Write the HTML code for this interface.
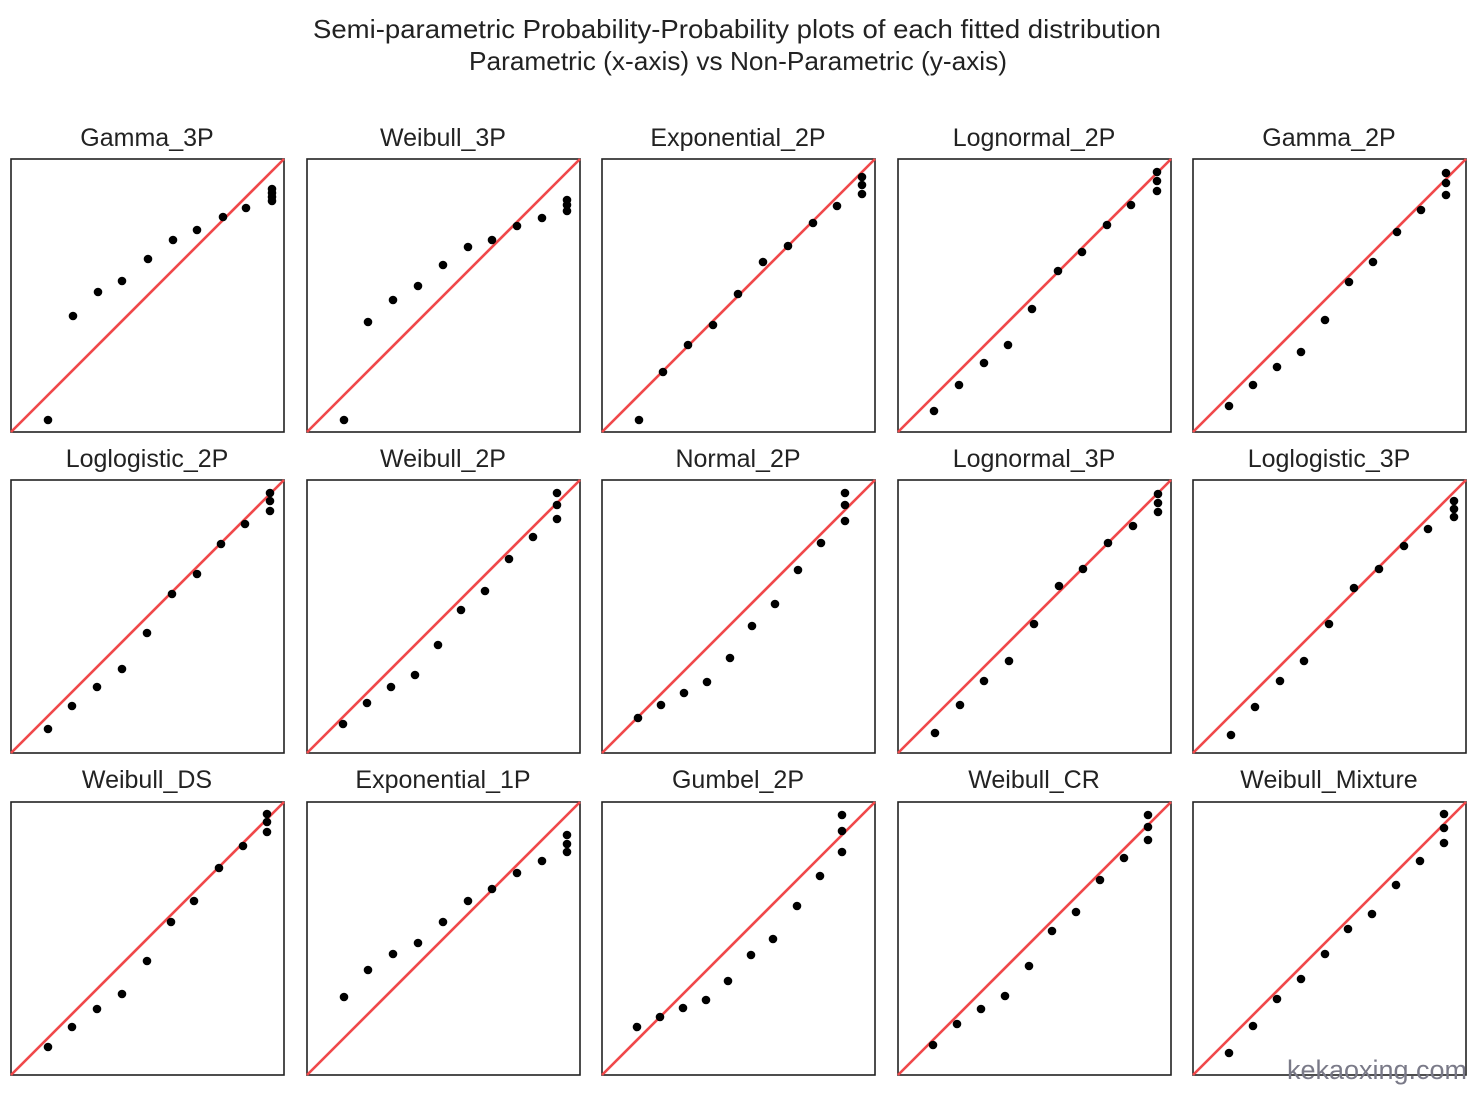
<!DOCTYPE html>
<html><head><meta charset="utf-8"><style>
html,body{margin:0;padding:0;background:#fff;}
svg{display:block;}
text{font-family:"Liberation Sans","DejaVu Sans",sans-serif;fill:#222;}
</style></head><body>
<svg width="1482" height="1094" viewBox="0 0 1482 1094" xmlns="http://www.w3.org/2000/svg">
<text x="313" y="38" font-size="26" textLength="848" lengthAdjust="spacingAndGlyphs">Semi-parametric Probability-Probability plots of each fitted distribution</text>
<text x="469" y="70" font-size="26" textLength="538" lengthAdjust="spacingAndGlyphs">Parametric (x-axis) vs Non-Parametric (y-axis)</text>
<g font-size="25" text-anchor="middle">
<text x="147" y="146">Gamma_3P</text><text x="443" y="146">Weibull_3P</text><text x="738" y="146">Exponential_2P</text><text x="1034" y="146">Lognormal_2P</text><text x="1329" y="146">Gamma_2P</text>
<text x="147" y="467">Loglogistic_2P</text><text x="443" y="467">Weibull_2P</text><text x="738" y="467">Normal_2P</text><text x="1034" y="467">Lognormal_3P</text><text x="1329" y="467">Loglogistic_3P</text>
<text x="147" y="788">Weibull_DS</text><text x="443" y="788">Exponential_1P</text><text x="738" y="788">Gumbel_2P</text><text x="1034" y="788">Weibull_CR</text><text x="1329" y="788">Weibull_Mixture</text>
</g>
<g fill="none" stroke="#222" stroke-width="1.6">
<rect x="11" y="159" width="273" height="273"/><rect x="307" y="159" width="273" height="273"/><rect x="602" y="159" width="273" height="273"/><rect x="898" y="159" width="273" height="273"/><rect x="1193" y="159" width="273" height="273"/>
<rect x="11" y="480" width="273" height="273"/><rect x="307" y="480" width="273" height="273"/><rect x="602" y="480" width="273" height="273"/><rect x="898" y="480" width="273" height="273"/><rect x="1193" y="480" width="273" height="273"/>
<rect x="11" y="802" width="273" height="273"/><rect x="307" y="802" width="273" height="273"/><rect x="602" y="802" width="273" height="273"/><rect x="898" y="802" width="273" height="273"/><rect x="1193" y="802" width="273" height="273"/>
</g>
<g stroke="#f0484a" stroke-width="2.6">
<line x1="11" y1="432" x2="284" y2="159"/><line x1="307" y1="432" x2="580" y2="159"/><line x1="602" y1="432" x2="875" y2="159"/><line x1="898" y1="432" x2="1171" y2="159"/><line x1="1193" y1="432" x2="1466" y2="159"/>
<line x1="11" y1="753" x2="284" y2="480"/><line x1="307" y1="753" x2="580" y2="480"/><line x1="602" y1="753" x2="875" y2="480"/><line x1="898" y1="753" x2="1171" y2="480"/><line x1="1193" y1="753" x2="1466" y2="480"/>
<line x1="11" y1="1075" x2="284" y2="802"/><line x1="307" y1="1075" x2="580" y2="802"/><line x1="602" y1="1075" x2="875" y2="802"/><line x1="898" y1="1075" x2="1171" y2="802"/><line x1="1193" y1="1075" x2="1466" y2="802"/>
</g>
<g fill="#000">
<circle cx="48" cy="420" r="4.3"/><circle cx="73" cy="316" r="4.3"/><circle cx="98" cy="292" r="4.3"/><circle cx="122" cy="281" r="4.3"/><circle cx="148" cy="259" r="4.3"/><circle cx="173" cy="240" r="4.3"/><circle cx="197" cy="230" r="4.3"/><circle cx="223" cy="217" r="4.3"/><circle cx="246" cy="208" r="4.3"/><circle cx="272" cy="201" r="4.3"/><circle cx="272" cy="197" r="4.3"/><circle cx="272" cy="193" r="4.3"/><circle cx="272" cy="189" r="4.3"/>
<circle cx="344" cy="420" r="4.3"/><circle cx="368" cy="322" r="4.3"/><circle cx="393" cy="300" r="4.3"/><circle cx="418" cy="286" r="4.3"/><circle cx="443" cy="265" r="4.3"/><circle cx="468" cy="247" r="4.3"/><circle cx="492" cy="240" r="4.3"/><circle cx="517" cy="226" r="4.3"/><circle cx="542" cy="218" r="4.3"/><circle cx="567" cy="211" r="4.3"/><circle cx="567" cy="205" r="4.3"/><circle cx="567" cy="200" r="4.3"/>
<circle cx="639" cy="420" r="4.3"/><circle cx="663" cy="372" r="4.3"/><circle cx="688" cy="345" r="4.3"/><circle cx="713" cy="325" r="4.3"/><circle cx="738" cy="294" r="4.3"/><circle cx="763" cy="262" r="4.3"/><circle cx="788" cy="246" r="4.3"/><circle cx="813" cy="223" r="4.3"/><circle cx="837" cy="206" r="4.3"/><circle cx="862" cy="194" r="4.3"/><circle cx="862" cy="185" r="4.3"/><circle cx="862" cy="177" r="4.3"/>
<circle cx="934" cy="411" r="4.3"/><circle cx="959" cy="385" r="4.3"/><circle cx="984" cy="363" r="4.3"/><circle cx="1008" cy="345" r="4.3"/><circle cx="1032" cy="309" r="4.3"/><circle cx="1058" cy="271" r="4.3"/><circle cx="1082" cy="252" r="4.3"/><circle cx="1107" cy="225" r="4.3"/><circle cx="1131" cy="205" r="4.3"/><circle cx="1157" cy="191" r="4.3"/><circle cx="1157" cy="181" r="4.3"/><circle cx="1157" cy="172" r="4.3"/>
<circle cx="1229" cy="406" r="4.3"/><circle cx="1253" cy="385" r="4.3"/><circle cx="1277" cy="367" r="4.3"/><circle cx="1301" cy="352" r="4.3"/><circle cx="1325" cy="320" r="4.3"/><circle cx="1349" cy="282" r="4.3"/><circle cx="1373" cy="262" r="4.3"/><circle cx="1397" cy="232" r="4.3"/><circle cx="1421" cy="210" r="4.3"/><circle cx="1446" cy="195" r="4.3"/><circle cx="1446" cy="183" r="4.3"/><circle cx="1446" cy="173" r="4.3"/>
<circle cx="48" cy="729" r="4.3"/><circle cx="72" cy="706" r="4.3"/><circle cx="97" cy="687" r="4.3"/><circle cx="122" cy="669" r="4.3"/><circle cx="147" cy="633" r="4.3"/><circle cx="172" cy="594" r="4.3"/><circle cx="197" cy="574" r="4.3"/><circle cx="221" cy="544" r="4.3"/><circle cx="245" cy="524" r="4.3"/><circle cx="270" cy="511" r="4.3"/><circle cx="270" cy="501" r="4.3"/><circle cx="270" cy="493" r="4.3"/>
<circle cx="343" cy="724" r="4.3"/><circle cx="367" cy="703" r="4.3"/><circle cx="391" cy="687" r="4.3"/><circle cx="415" cy="675" r="4.3"/><circle cx="438" cy="645" r="4.3"/><circle cx="461" cy="610" r="4.3"/><circle cx="485" cy="591" r="4.3"/><circle cx="509" cy="559" r="4.3"/><circle cx="533" cy="537" r="4.3"/><circle cx="557" cy="519" r="4.3"/><circle cx="557" cy="505" r="4.3"/><circle cx="557" cy="493" r="4.3"/>
<circle cx="638" cy="718" r="4.3"/><circle cx="661" cy="705" r="4.3"/><circle cx="684" cy="693" r="4.3"/><circle cx="707" cy="682" r="4.3"/><circle cx="730" cy="658" r="4.3"/><circle cx="752" cy="626" r="4.3"/><circle cx="775" cy="604" r="4.3"/><circle cx="798" cy="570" r="4.3"/><circle cx="821" cy="543" r="4.3"/><circle cx="845" cy="521" r="4.3"/><circle cx="845" cy="505" r="4.3"/><circle cx="845" cy="493" r="4.3"/>
<circle cx="935" cy="733" r="4.3"/><circle cx="960" cy="705" r="4.3"/><circle cx="984" cy="681" r="4.3"/><circle cx="1009" cy="661" r="4.3"/><circle cx="1034" cy="624" r="4.3"/><circle cx="1059" cy="586" r="4.3"/><circle cx="1083" cy="569" r="4.3"/><circle cx="1108" cy="543" r="4.3"/><circle cx="1133" cy="526" r="4.3"/><circle cx="1158" cy="512" r="4.3"/><circle cx="1158" cy="503" r="4.3"/><circle cx="1158" cy="494" r="4.3"/>
<circle cx="1231" cy="735" r="4.3"/><circle cx="1255" cy="707" r="4.3"/><circle cx="1280" cy="681" r="4.3"/><circle cx="1304" cy="661" r="4.3"/><circle cx="1329" cy="624" r="4.3"/><circle cx="1354" cy="588" r="4.3"/><circle cx="1379" cy="569" r="4.3"/><circle cx="1404" cy="546" r="4.3"/><circle cx="1428" cy="529" r="4.3"/><circle cx="1454" cy="517" r="4.3"/><circle cx="1454" cy="509" r="4.3"/><circle cx="1454" cy="501" r="4.3"/>
<circle cx="48" cy="1047" r="4.3"/><circle cx="72" cy="1027" r="4.3"/><circle cx="97" cy="1009" r="4.3"/><circle cx="122" cy="994" r="4.3"/><circle cx="147" cy="961" r="4.3"/><circle cx="171" cy="922" r="4.3"/><circle cx="194" cy="901" r="4.3"/><circle cx="219" cy="868" r="4.3"/><circle cx="243" cy="846" r="4.3"/><circle cx="267" cy="832" r="4.3"/><circle cx="267" cy="822" r="4.3"/><circle cx="267" cy="814" r="4.3"/>
<circle cx="344" cy="997" r="4.3"/><circle cx="368" cy="970" r="4.3"/><circle cx="393" cy="954" r="4.3"/><circle cx="418" cy="943" r="4.3"/><circle cx="443" cy="922" r="4.3"/><circle cx="468" cy="901" r="4.3"/><circle cx="492" cy="889" r="4.3"/><circle cx="517" cy="873" r="4.3"/><circle cx="542" cy="861" r="4.3"/><circle cx="567" cy="852" r="4.3"/><circle cx="567" cy="844" r="4.3"/><circle cx="567" cy="835" r="4.3"/>
<circle cx="637" cy="1027" r="4.3"/><circle cx="660" cy="1017" r="4.3"/><circle cx="683" cy="1008" r="4.3"/><circle cx="706" cy="1000" r="4.3"/><circle cx="728" cy="981" r="4.3"/><circle cx="751" cy="955" r="4.3"/><circle cx="773" cy="939" r="4.3"/><circle cx="797" cy="906" r="4.3"/><circle cx="820" cy="876" r="4.3"/><circle cx="842" cy="852" r="4.3"/><circle cx="842" cy="831" r="4.3"/><circle cx="842" cy="815" r="4.3"/>
<circle cx="933" cy="1045" r="4.3"/><circle cx="957" cy="1024" r="4.3"/><circle cx="981" cy="1009" r="4.3"/><circle cx="1005" cy="996" r="4.3"/><circle cx="1029" cy="966" r="4.3"/><circle cx="1052" cy="931" r="4.3"/><circle cx="1076" cy="912" r="4.3"/><circle cx="1100" cy="880" r="4.3"/><circle cx="1124" cy="858" r="4.3"/><circle cx="1148" cy="840" r="4.3"/><circle cx="1148" cy="827" r="4.3"/><circle cx="1148" cy="815" r="4.3"/>
<circle cx="1229" cy="1053" r="4.3"/><circle cx="1253" cy="1026" r="4.3"/><circle cx="1277" cy="999" r="4.3"/><circle cx="1301" cy="979" r="4.3"/><circle cx="1325" cy="954" r="4.3"/><circle cx="1348" cy="929" r="4.3"/><circle cx="1372" cy="914" r="4.3"/><circle cx="1396" cy="885" r="4.3"/><circle cx="1420" cy="861" r="4.3"/><circle cx="1444" cy="843" r="4.3"/><circle cx="1444" cy="828" r="4.3"/><circle cx="1444" cy="814" r="4.3"/>
</g>
<text x="1377" y="1079" font-size="27" text-anchor="middle" style="fill:#7a7a88">kekaoxing.com</text>
</svg>
</body></html>
